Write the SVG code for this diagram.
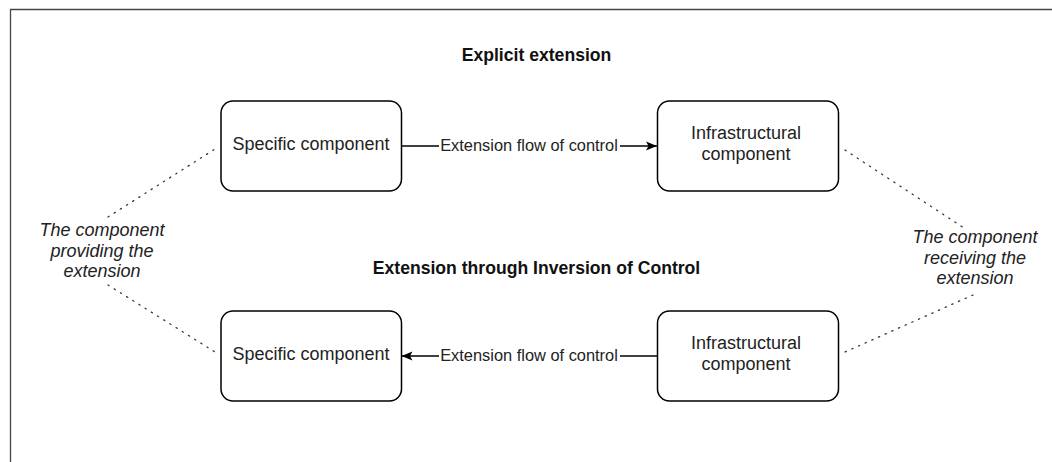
<svg xmlns="http://www.w3.org/2000/svg" width="1052" height="462" viewBox="0 0 1052 462">
<style>
.node{fill:#fff;stroke:#000;stroke-width:1.5}
.nt{font-family:"Liberation Sans",Arial,sans-serif;font-size:18px;fill:#222;text-anchor:middle}
.title{font-family:"Liberation Sans",Arial,sans-serif;font-size:17.6px;font-weight:bold;fill:#111;text-anchor:middle}
.note{font-family:"Liberation Sans",Arial,sans-serif;font-size:18px;font-style:italic;fill:#222;text-anchor:middle}
.lbl{font-family:"Liberation Sans",Arial,sans-serif;font-size:16.4px;fill:#222;text-anchor:middle}
.edge{fill:none;stroke:#000;stroke-width:1.5}
.dot{fill:none;stroke:#333;stroke-width:1.3;stroke-dasharray:1.3 6;stroke-linecap:round}
.frame{fill:none;stroke:#444;stroke-width:1.3}
</style>
<defs>
<marker id="arr" viewBox="0 0 12 10" refX="11" refY="5" markerWidth="12" markerHeight="10" markerUnits="userSpaceOnUse" orient="auto">
<path d="M11,5 L0,0.5 L2.5,5 L0,9.5 Z" fill="#000"/>
</marker>
</defs>
<rect width="1052" height="462" fill="#fff"/>
<g id="frame">
<path class="frame" d="M10.5,462 V9.5 H1052"/>
</g>
<g id="titles">
<text class="title" x="536.5" y="61">Explicit extension</text>
<text class="title" x="536.5" y="273.5">Extension through Inversion of Control</text>
</g>
<g id="connectors">
<line class="dot" x1="108" y1="217" x2="215" y2="149"/>
<line class="dot" x1="108" y1="285" x2="215" y2="352"/>
<line class="dot" x1="845" y1="150" x2="967" y2="230"/>
<line class="dot" x1="973" y1="295" x2="845" y2="352"/>
<g id="edge-top">
<line class="edge" x1="401.5" y1="146" x2="657" y2="146" marker-end="url(#arr)"/>
<rect x="439" y="136" width="181" height="20" fill="#fff"/>
<text class="lbl" x="529" y="150.5">Extension flow of control</text>
</g>
<g id="edge-bottom">
<line class="edge" x1="657" y1="356" x2="401.5" y2="356" marker-end="url(#arr)"/>
<rect x="439" y="346" width="181" height="20" fill="#fff"/>
<text class="lbl" x="529" y="360.5">Extension flow of control</text>
</g>
</g>
<g id="specific-top">
<rect class="node" x="221" y="101" width="180.5" height="90" rx="12" ry="12"/>
<text class="nt" x="311" y="150">Specific component</text>
</g>
<g id="infra-top">
<rect class="node" x="657.5" y="101" width="181" height="90" rx="12" ry="12"/>
<text class="nt" x="746" y="138.5">Infrastructural</text>
<text class="nt" x="746" y="159.5">component</text>
</g>
<g id="specific-bottom">
<rect class="node" x="221" y="311" width="180.5" height="90" rx="12" ry="12"/>
<text class="nt" x="311" y="360">Specific component</text>
</g>
<g id="infra-bottom">
<rect class="node" x="657.5" y="311" width="181" height="90" rx="12" ry="12"/>
<text class="nt" x="746" y="348.5">Infrastructural</text>
<text class="nt" x="746" y="369.5">component</text>
</g>
<g id="note-left">
<text class="note" x="102" y="236">The component</text>
<text class="note" x="102" y="256.5">providing the</text>
<text class="note" x="102" y="277">extension</text>
</g>
<g id="note-right">
<text class="note" x="975" y="243">The component</text>
<text class="note" x="975" y="263.5">receiving the</text>
<text class="note" x="975" y="284">extension</text>
</g>
</svg>
